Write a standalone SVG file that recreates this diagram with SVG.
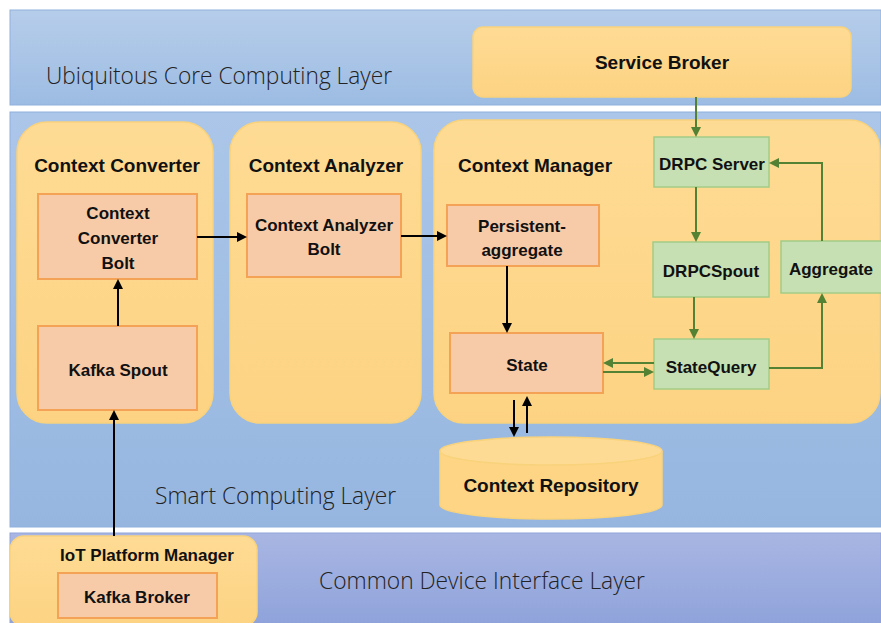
<svg xmlns="http://www.w3.org/2000/svg" width="881" height="623" viewBox="0 0 881 623">
<style>
.lbl{font-family:"Liberation Sans",Arial,sans-serif;font-weight:bold;fill:#111;text-anchor:middle}
.layer{font-family:"Open Sans","Liberation Sans",sans-serif;font-weight:300;fill:#222;font-size:23px}
.cont{fill:url(#gCont);stroke:#f9d27c;stroke-width:1.5}
.org{fill:#f8cba8;stroke:#f4a356;stroke-width:2}
.grn{fill:#c6e0b4;stroke:#a3cc86;stroke-width:1.5}
.blk{stroke:#000;stroke-width:2;fill:none;marker-end:url(#aB)}
.gr{stroke:#548235;stroke-width:2;fill:none;marker-end:url(#aG)}
</style>
<defs>
<linearGradient id="gTop" x1="0" y1="0" x2="0" y2="1"><stop offset="0" stop-color="#b6cdea"/><stop offset="1" stop-color="#9dbce3"/></linearGradient>
<linearGradient id="gMid" x1="0" y1="0" x2="0" y2="1"><stop offset="0" stop-color="#abc6e8"/><stop offset="1" stop-color="#96b6e0"/></linearGradient>
<linearGradient id="gBot" x1="0" y1="0" x2="0" y2="1"><stop offset="0" stop-color="#a9b6e3"/><stop offset="1" stop-color="#8ea2da"/></linearGradient>
<linearGradient id="gCont" x1="0" y1="0" x2="0" y2="1"><stop offset="0" stop-color="#fedb94"/><stop offset="1" stop-color="#fdd383"/></linearGradient>
<marker id="aB" markerWidth="10" markerHeight="10" refX="8" refY="5" orient="auto" markerUnits="userSpaceOnUse"><path d="M0,0 L10,5 L0,10 z" fill="#000"/></marker>
<marker id="aG" markerWidth="10" markerHeight="10" refX="8" refY="5" orient="auto" markerUnits="userSpaceOnUse"><path d="M0,0 L10,5 L0,10 z" fill="#548235"/></marker>
</defs>
<rect width="881" height="623" fill="#fff"/>
<!-- layers -->
<g id="layer-ubiquitous">
<rect x="10" y="10" width="871" height="95" fill="url(#gTop)" stroke="#8fb0dc" stroke-width="1"/>
<text class="layer" x="46" y="84" textLength="346" lengthAdjust="spacingAndGlyphs">Ubiquitous Core Computing Layer</text>
</g>
<g id="layer-smart">
<rect x="10" y="112" width="871" height="415" fill="url(#gMid)" stroke="#8fb0dc" stroke-width="1"/>
<text class="layer" x="155" y="504" textLength="241" lengthAdjust="spacingAndGlyphs">Smart Computing Layer</text>
</g>
<g id="layer-device">
<rect x="10" y="533" width="871" height="95" fill="url(#gBot)" stroke="#8fa3da" stroke-width="1"/>
<text class="layer" x="319" y="589" textLength="326" lengthAdjust="spacingAndGlyphs">Common Device Interface Layer</text>
</g>
<!-- containers -->
<g id="service-broker">
<rect class="cont" x="473" y="27" width="378" height="70" rx="10"/>
<text class="lbl" x="662" y="69" font-size="19">Service Broker</text>
</g>
<g id="context-converter">
<rect class="cont" x="17" y="122" width="196" height="301" rx="30"/>
<text class="lbl" x="117" y="172" font-size="19">Context Converter</text>
</g>
<g id="context-analyzer">
<rect class="cont" x="230" y="122" width="191" height="301" rx="30"/>
<text class="lbl" x="326" y="172" font-size="19">Context Analyzer</text>
</g>
<g id="context-manager">
<rect class="cont" x="434" y="120" width="446" height="303" rx="30"/>
<text class="lbl" x="535" y="172" font-size="19">Context Manager</text>
</g>
<g id="iot-platform-manager">
<rect class="cont" x="10" y="536" width="247" height="90" rx="14"/>
<text class="lbl" x="147" y="561" font-size="17">IoT Platform Manager</text>
</g>
<!-- inner nodes -->
<g id="cc-bolt">
<rect class="org" x="38" y="194" width="159" height="85"/>
<text class="lbl" x="118" y="219" font-size="17">Context</text>
<text class="lbl" x="118" y="244" font-size="17">Converter</text>
<text class="lbl" x="118" y="269" font-size="17">Bolt</text>
</g>
<g id="kafka-spout">
<rect class="org" x="38" y="326" width="159" height="84"/>
<text class="lbl" x="118" y="376" font-size="17">Kafka Spout</text>
</g>
<g id="ca-bolt">
<rect class="org" x="247" y="194" width="154" height="83"/>
<text class="lbl" x="324" y="231" font-size="17">Context Analyzer</text>
<text class="lbl" x="324" y="255" font-size="17">Bolt</text>
</g>
<g id="persistent-aggregate">
<rect class="org" x="447" y="205" width="152" height="61"/>
<text class="lbl" x="522" y="232" font-size="17">Persistent-</text>
<text class="lbl" x="522" y="256" font-size="17">aggregate</text>
</g>
<g id="state">
<rect class="org" x="450" y="333" width="153" height="60"/>
<text class="lbl" x="527" y="371" font-size="17">State</text>
</g>
<g id="drpc-server">
<rect class="grn" x="654" y="137" width="115" height="50"/>
<text class="lbl" x="712" y="170" font-size="17">DRPC Server</text>
</g>
<g id="drpcspout">
<rect class="grn" x="653" y="242" width="116" height="55"/>
<text class="lbl" x="711" y="277" font-size="17">DRPCSpout</text>
</g>
<g id="aggregate">
<rect class="grn" x="781" y="241" width="110" height="52"/>
<text class="lbl" x="831" y="275" font-size="17">Aggregate</text>
</g>
<g id="statequery">
<rect class="grn" x="654" y="339" width="115" height="50"/>
<text class="lbl" x="711" y="373" font-size="17">StateQuery</text>
</g>
<g id="context-repository">
<path d="M440,451 L440,505 A111,14 0 0 0 662,505 L662,451" fill="#fdd585" stroke="#f9d27c" stroke-width="1.5"/>
<ellipse cx="551" cy="451" rx="111" ry="14" fill="#fedb94" stroke="#f9d27c" stroke-width="1.5"/>
<text class="lbl" x="551" y="492" font-size="19">Context Repository</text>
</g>
<g id="kafka-broker">
<rect class="org" x="58" y="573" width="159" height="45"/>
<text class="lbl" x="137" y="603" font-size="17">Kafka Broker</text>
</g>
<!-- connectors -->
<g id="connectors">
<line class="blk" x1="114" y1="536" x2="114" y2="412"/>
<line class="blk" x1="118" y1="326" x2="118" y2="281"/>
<line class="blk" x1="197" y1="237" x2="245" y2="237"/>
<line class="blk" x1="401" y1="236" x2="445" y2="236"/>
<line class="blk" x1="507" y1="266" x2="507" y2="331"/>
<line class="blk" x1="514" y1="400" x2="514" y2="435"/>
<line class="blk" x1="527" y1="433" x2="527" y2="398"/>
<line class="gr" x1="696" y1="97" x2="696" y2="135"/>
<line class="gr" x1="696" y1="187" x2="696" y2="240"/>
<line class="gr" x1="694" y1="297" x2="694" y2="337"/>
<line class="gr" x1="654" y1="363" x2="605" y2="363"/>
<line class="gr" x1="603" y1="372" x2="652" y2="372"/>
<polyline class="gr" points="769,368 822,368 822,295"/>
<polyline class="gr" points="822,241 822,163 771,163"/>
</g>
</svg>
